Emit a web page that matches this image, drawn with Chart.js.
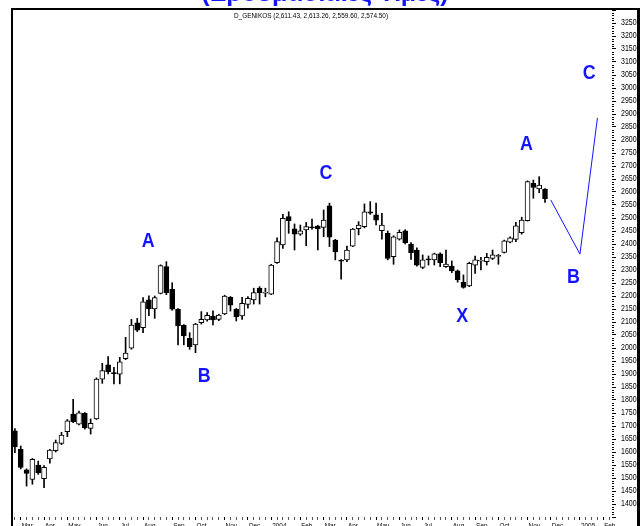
<!DOCTYPE html>
<html>
<head>
<meta charset="utf-8">
<script src="https://cdn.jsdelivr.net/npm/chart.js@4.4.1/dist/chart.umd.min.js"></script>
<style>
  html, body { margin: 0; padding: 0; background: #fff; overflow: hidden; }
  #wrap { position: relative; width: 644px; height: 526px; overflow: hidden; }
  #myChart { position: absolute; left: 0; top: -30px; }
</style>
</head>
<body>
<div id="wrap"><canvas id="myChart" width="644" height="586"></canvas></div>
<script>
// weekly candles, GD (γενικός δείκτης)
const opens  = [1681,1610,1531,1495,1550,1497,1573,1605,1633,1678,1746,1707,1749,1691,1727,1880,1935,1905,1899,1959,
                1999,2097,2078,2185,2150,2210,2313,2226,2149,2087,2037,2012,2097,2108,2123,2110,2131,2195,2149,2123,
                2168,2185,2230,2211,2207,2328,2396,2505,2458,2438,2454,2466,2469,2464,2547,2415,2338,2339,2392,2459,
                2467,2524,2512,2451,2441,2351,2419,2451,2400,2377,2310,2343,2339,2362,2313,2315,2297,2253,2239,2319,
                2334,2332,2345,2352,2368,2407,2418,2444,2490,2633,2612,2611.43];
const highs  = [1690,1623,1535,1575,1565,1548,1610,1646,1676,1725,1803,1757,1752,1727,1885,1941,1967,1926,1964,2041,
                2110,2114,2194,2201,2200,2320,2332,2251,2152,2090,2059,2095,2140,2136,2143,2130,2203,2198,2152,2195,
                2198,2230,2236,2230,2322,2424,2514,2524,2477,2473,2483,2496,2472,2531,2557,2418,2340,2392,2460,2486,
                2554,2563,2557,2518,2450,2432,2454,2455,2405,2385,2358,2354,2365,2366,2377,2335,2300,2281,2330,2354,
                2349,2364,2377,2360,2415,2428,2483,2503,2643,2646,2659,2613.26];
const lows   = [1597,1535,1469,1476,1514,1463,1557,1600,1628,1659,1713,1704,1688,1669,1725,1864,1900,1862,1862,1955,
                1995,2063,2059,2124,2114,2208,2205,2145,2012,2012,1995,1982,2092,2103,2089,2105,2128,2142,2104,2110,
                2153,2169,2169,2197,2205,2325,2383,2441,2377,2433,2393,2457,2377,2428,2390,2339,2265,2332,2390,2435,
                2462,2514,2473,2419,2339,2322,2415,2400,2341,2315,2305,2319,2319,2313,2310,2290,2253,2230,2236,2287,
                2300,2319,2340,2322,2365,2404,2409,2438,2488,2576,2597,2559.60];
const closes = [1620,1541,1518,1572,1520,1541,1607,1636,1665,1720,1717,1751,1693,1710,1880,1913,1909,1901,1947,1980,
                2088,2069,2178,2150,2194,2317,2213,2149,2085,2046,2005,2092,2110,2126,2108,2127,2200,2165,2120,2172,
                2191,2213,2213,2214,2319,2409,2499,2490,2438,2451,2467,2462,2458,2492,2426,2370,2334,2377,2457,2473,
                2524,2519,2492,2473,2345,2428,2445,2405,2367,2319,2339,2339,2362,2328,2323,2296,2262,2233,2326,2339,
                2337,2349,2358,2356,2412,2424,2470,2492,2640,2618,2627,2574.50];

const nSlots = 103; // 92 weeks + empty weeks to the right
const monthNames = ['Mar','Apr','May','Jun','Jul','Aug','Sep','Oct','Nov','Dec','2004','Feb',
                    'Mar','Apr','May','Jun','Jul','Aug','Sep','Oct','Nov','Dec','2005','Feb'];
const monthSlots = [1,5,9,14,18,22,27,31,36,40,44,49,53,57,62,66,70,75,79,83,88,92,97,101];

// projected path (blue line)
const projSlots  = [92, 97, 100];
const projLevels = [2569, 2361, 2885];

// Elliott wave letters
const waveText  = ['A','B','C','X','A','B','C'];
const waveSlot  = [22.9, 32.5, 53.4, 76.8, 87.8, 95.9, 98.6];
const waveLevel = [2411, 1892, 2673, 2123, 2785, 2273, 3057];

const BLUE = '#1414ff';
const SANS = "'Liberation Sans', Arial, sans-serif";

let labels = [];
for (let i = 0; i < nSlots; i++) labels.push('');
monthSlots.forEach((s, j) => { labels[s] = monthNames[j]; });

let projData = [];
for (let i = 0; i < nSlots; i++) projData.push(null);
projSlots.forEach((s, j) => { projData[s] = projLevels[j]; });

const ctx = document.getElementById('myChart');

// narrow text like the original (squeezed sideways)
function narrowText(c, txt, x, y, sx) {
  c.save();
  c.translate(x, y);
  c.scale(sx, 1);
  c.fillText(txt, 0, 0);
  c.restore();
}

const extras = {
  id: 'extras',
  afterDraw(chart) {
    const c = chart.ctx;
    const xs = chart.scales.x, ys = chart.scales.y;
    c.save();
    // frame
    c.fillStyle = '#000';
    c.fillRect(11, 38, 2, 600);
    c.fillRect(11, 38, 629, 2);
    c.fillRect(637, 38, 3, 600);
    // minor ticks on price axis
    for (let v = 1350; v <= 3300; v += 10) {
      if (v % 50 === 0) continue;
      const y = Math.round(ys.getPixelForValue(v));
      c.fillRect(612, y, 2, 1);
    }
    // price labels
    c.font = '9px ' + SANS;
    c.textAlign = 'left';
    c.textBaseline = 'middle';
    ys.ticks.forEach((t) => {
      const r = Math.round(t.value);
      if (r % 50 === 0 && r >= 1400 && r <= 3250) narrowText(c, String(r), 621, ys.getPixelForValue(r), 0.78);
    });
    // month labels
    c.font = '8px ' + SANS;
    c.textBaseline = 'top';
    monthSlots.forEach((s, j) => narrowText(c, monthNames[j], xs.getPixelForValue(s) + 1, 552, 0.8));
    // title (cut by the top of the picture)
    c.fillStyle = BLUE;
    c.font = 'bold 25px ' + SANS;
    c.textAlign = 'center';
    c.textBaseline = 'alphabetic';
    c.fillText('(Εβδομαδιαίες Τιμές)', 325, 31);
    // security name + last OHLC
    c.fillStyle = '#000';
    c.font = '7px ' + SANS;
    c.textBaseline = 'middle';
    narrowText(c, 'D_GENIKOS (2,611.43, 2,613.26, 2,559.60, 2,574.50)', 311, 46, 0.92);
    // wave letters
    c.fillStyle = BLUE;
    c.font = 'bold 21px ' + SANS;
    for (let i = 0; i < waveText.length; i++) {
      narrowText(c, waveText[i], xs.getPixelForValue(waveSlot[i]), ys.getPixelForValue(waveLevel[i]), 0.85);
    }
    c.restore();
  }
};

new Chart(ctx, {
  type: 'bar',
  data: {
    labels: labels,
    datasets: [
      {
        label: 'body',
        data: opens.map((o, i) => [o, closes[i]]),
        backgroundColor: opens.map((o, i) => closes[i] >= o ? '#fff' : '#000'),
        borderColor: '#000',
        borderWidth: 1,
        borderSkipped: false,
        barThickness: 5,
        grouped: false,
        order: 0
      },
      {
        label: 'wick',
        data: lows.map((l, i) => [l, highs[i]]),
        backgroundColor: '#000',
        borderWidth: 0,
        barThickness: 1,
        grouped: false,
        order: 1
      },
      {
        type: 'line',
        label: 'path',
        data: projData,
        borderColor: BLUE,
        borderWidth: 1,
        pointRadius: 0,
        spanGaps: true,
        order: 2
      }
    ]
  },
  options: {
    responsive: false,
    animation: false,
    layout: { padding: { left: 12, right: 0, top: 40, bottom: 0 } },
    plugins: { legend: { display: false }, tooltip: { enabled: false }, title: { display: false } },
    scales: {
      x: {
        offset: true,
        grid: {
          display: true, drawOnChartArea: false, drawTicks: true, tickLength: 3, offset: false,
          tickColor: (c) => (monthSlots.indexOf(c.index) >= 0) ? '#000' : '#555'
        },
        border: { display: false },
        ticks: { autoSkip: false, maxRotation: 0, minRotation: 0, color: 'rgba(0,0,0,0)', font: { size: 8 } },
        afterFit(s) { s.height = 39; }
      },
      y: {
        position: 'right',
        min: 1350,
        max: 3300,
        grid: {
          drawOnChartArea: false, drawTicks: true, tickLength: 4,
          tickColor: (c) => (c.tick && Math.round(c.tick.value) % 50 === 0) ? '#000' : 'rgba(0,0,0,0)'
        },
        border: { display: false },
        ticks: {
          stepSize: 10,
          autoSkip: false,
          padding: 5,
          color: 'rgba(0,0,0,0)',
          font: { size: 9 },
          callback: (v) => {
            const r = Math.round(v);
            return (r % 50 === 0 && r >= 1400 && r <= 3250) ? String(r) : '';
          }
        },
        afterFit(s) { s.width = 32; }
      }
    }
  },
  plugins: [extras]
});
</script>
</body>
</html>
